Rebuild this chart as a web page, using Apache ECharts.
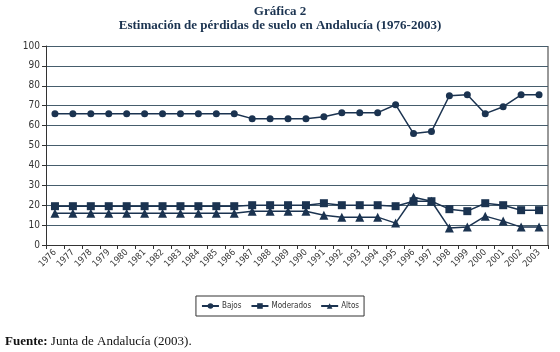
<!DOCTYPE html>
<html>
<head>
<meta charset="utf-8">
<script src="https://cdn.jsdelivr.net/npm/echarts@6/dist/echarts.min.js"></script>
<style>
  html, body { margin: 0; padding: 0; background: #fff; }
  #chart { width: 560px; height: 352px; }
</style>
</head>
<body>
<div id="chart"></div>
<script>
// años 1976-2003
const years = ['1976','1977','1978','1979','1980','1981','1982','1983','1984','1985',
  '1986','1987','1988','1989','1990','1991','1992','1993','1994','1995',
  '1996','1997','1998','1999','2000','2001','2002','2003'];
const bajos = [66,66,66,66,66,66,66,66,66,66,66,63.5,63.5,63.5,63.5,64.5,66.5,66.5,66.5,70.5,
  56,57,75,75.5,66,69.5,75.5,75.5];
const moderados = [19.5,19.5,19.5,19.5,19.5,19.5,19.5,19.5,19.5,19.5,19.5,20,20,20,20,21,20,20,20,19.5,
  22,22,18,17,21,20,17.5,17.5];
const altos = [16,16,16,16,16,16,16,16,16,16,16,17,17,17,17,15,14,14,14,11,
  24,22,8.5,9,14.5,12,9,9];
const yTicks = [0,10,20,30,40,50,60,70,80,90,100];

const navy = '#1b3350';
const gridCol = '#465d6c';
const chart = echarts.init(document.getElementById('chart'));

const mk = (name, data, symbol, size) => ({
  name: name, type: 'line', data: data,
  symbol: symbol, symbolSize: size,
  lineStyle: { color: navy, width: 1.5 },
  itemStyle: { color: navy },
  animation: false
});

chart.setOption({
  animation: false,
  title: [
    { text: 'Gráfica 2', left: 'center', top: 0,
      textStyle: { fontFamily: 'Liberation Serif', fontWeight: 'bold', fontSize: 13, color: navy } },
    { text: 'Estimación de pérdidas de suelo en Andalucía (1976-2003)', left: 'center', top: 14,
      textStyle: { fontFamily: 'Liberation Serif', fontWeight: 'bold', fontSize: 13, color: navy } }
  ],
  legend: {
    data: ['Bajos','Moderados','Altos'],
    left: 'center', top: 296,
    itemWidth: 17, itemHeight: 7, itemGap: 9,
    borderColor: '#333', borderWidth: 1, padding: [6, 5], borderRadius: 0,
    textStyle: { fontFamily: 'DejaVu Sans Condensed', fontSize: 8, color: '#333', padding: [0, 0, 0, -2] }
  },
  grid: { left: 46, right: 12, top: 46, bottom: 107 },
  xAxis: {
    type: 'category', data: years, boundaryGap: true,
    axisLine: { lineStyle: { color: '#333' } },
    axisTick: { show: true, length: 4, lineStyle: { color: '#333' } },
    axisLabel: { rotate: 45, fontSize: 9, fontFamily: 'DejaVu Sans Condensed', color: '#333', margin: 6 },
    splitLine: { show: false }
  },
  yAxis: {
    type: 'value', min: yTicks[0], max: yTicks[yTicks.length - 1], interval: 10,
    axisLine: { show: true, lineStyle: { color: '#333' } },
    axisTick: { show: true, length: 4, lineStyle: { color: '#333' } },
    axisLabel: { fontSize: 10, fontFamily: 'DejaVu Sans Condensed', color: '#333', margin: 6 },
    splitLine: { lineStyle: { color: gridCol, width: 1 } }
  },
  series: [
    mk('Bajos', bajos, 'circle', 7),
    mk('Moderados', moderados, 'rect', 8),
    mk('Altos', altos, 'triangle', 9)
  ],
  graphic: [
    { type: 'line', shape: { x1: 548, y1: 46, x2: 548, y2: 245 }, style: { stroke: '#333', lineWidth: 1 } },
    { type: 'text', left: 5, top: 335,
      style: { text: '{b|Fuente:} Junta de Andalucía (2003).',
        rich: { b: { fontFamily: 'Liberation Serif', fontWeight: 'bold', fontSize: 13, fill: '#111' } },
        font: '13px "Liberation Serif"', fill: '#111' } }
  ]
});
</script>
</body>
</html>
